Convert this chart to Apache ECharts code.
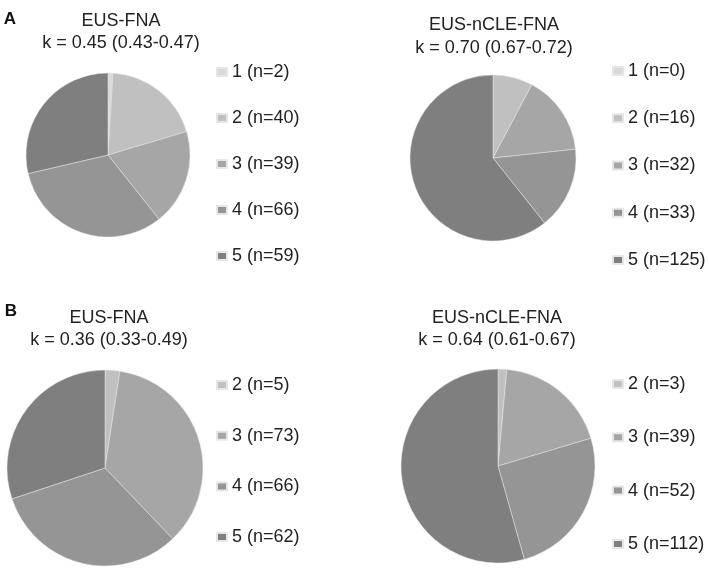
<!DOCTYPE html>
<html>
<head>
<meta charset="utf-8">
<script src="https://cdn.jsdelivr.net/npm/echarts@6/dist/echarts.min.js"></script>
<style>
html,body{margin:0;padding:0;background:#fff;}
#chart{width:709px;height:572px;}
</style>
</head>
<body>
<div id="chart"></div>
<script>
// Data
const scoresA = ['1', '2', '3', '4', '5'];
const scoresB = ['2', '3', '4', '5'];
const fnaA = [2, 40, 39, 66, 59];
const ncleA = [0, 16, 32, 33, 125];
const fnaB = [5, 73, 66, 62];
const ncleB = [3, 39, 52, 112];
const titles = [
  ['EUS-FNA', 'k = 0.45 (0.43-0.47)'],
  ['EUS-nCLE-FNA', 'k = 0.70 (0.67-0.72)'],
  ['EUS-FNA', 'k = 0.36 (0.33-0.49)'],
  ['EUS-nCLE-FNA', 'k = 0.64 (0.61-0.67)']
];
const panelLetters = ['A', 'B'];

const grayByScore = {'1': '#d9d9d9', '2': '#c0c0c0', '3': '#a6a6a6', '4': '#959595', '5': '#7f7f7f'};
const FONT = '"Liberation Sans", Arial, sans-serif';

function makeData(scores, values) {
  return scores.map((s, i) => ({
    name: s + ' (n=' + values[i] + ')',
    value: values[i],
    itemStyle: {color: grayByScore[s]}
  }));
}

const panels = [
  {scores: scoresA, values: fnaA, center: [108, 155], r: 82, legendLeft: 216, legendTop: 63, gap: 28, title: titles[0], tx: 121, ty: 21, lh: 22},
  {scores: scoresA, values: ncleA, center: [493, 158], r: 83, legendLeft: 612, legendTop: 62, gap: 29.25, title: titles[1], tx: 494, ty: 25, lh: 23},
  {scores: scoresB, values: fnaB, center: [105, 468], r: 98, legendLeft: 216, legendTop: 376, gap: 32.7, title: titles[2], tx: 109, ty: 318, lh: 22},
  {scores: scoresB, values: ncleB, center: [498, 466], r: 97, legendLeft: 612, legendTop: 375, gap: 35.3, title: titles[3], tx: 497, ty: 318, lh: 22}
];

const series = [];
const legends = [];
const graphics = [];
panels.forEach((p, i) => {
  const data = makeData(p.scores, p.values);
  series.push({
    type: 'pie',
    center: p.center,
    radius: p.r,
    startAngle: 90,
    clockwise: true,
    label: {show: false},
    labelLine: {show: false},
    emphasis: {disabled: true},
    itemStyle: {borderColor: '#e6e6e6', borderWidth: 0.5},
    data: data
  });
  legends.push({
    orient: 'vertical',
    left: p.legendLeft,
    top: p.legendTop,
    padding: 0,
    itemWidth: 10,
    itemHeight: 8,
    itemGap: p.gap,
    icon: 'rect',
    selectedMode: false,
    textStyle: {fontFamily: FONT, fontSize: 18, color: '#222', lineHeight: 18, padding: [0, 0, 0, 0]},
    data: data.map(d => ({name: d.name, itemStyle: {color: d.itemStyle.color}}))
  });
  graphics.push({
    type: 'text',
    x: p.tx, y: p.ty,
    style: {text: p.title[0], fontFamily: FONT, fontSize: 18, fill: '#222', align: 'center', verticalAlign: 'middle'}
  });
  graphics.push({
    type: 'text',
    x: p.tx, y: p.ty + p.lh,
    style: {text: p.title[1], fontFamily: FONT, fontSize: 18, fill: '#222', align: 'center', verticalAlign: 'middle'}
  });
});
graphics.push({type: 'text', x: 10, y: 19.5, style: {text: panelLetters[0], fontFamily: FONT, fontSize: 17, fontWeight: 'bold', fill: '#111', align: 'center', verticalAlign: 'middle'}});
graphics.push({type: 'text', x: 11, y: 311.5, style: {text: panelLetters[1], fontFamily: FONT, fontSize: 17, fontWeight: 'bold', fill: '#111', align: 'center', verticalAlign: 'middle'}});

const chart = echarts.init(document.getElementById('chart'), null, {renderer: 'canvas'});
chart.setOption({
  animation: false,
  backgroundColor: '#fff',
  legend: legends,
  series: series,
  graphic: graphics
});
</script>
</body>
</html>
